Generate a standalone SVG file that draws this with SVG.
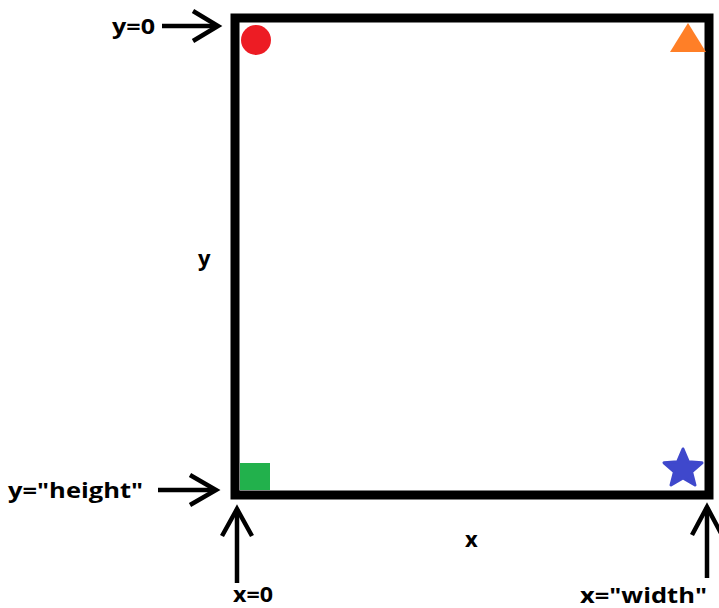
<svg xmlns="http://www.w3.org/2000/svg" width="719" height="608" viewBox="0 0 719 608">
  <style>
    .lbl { font-family: "Open Sans", "Liberation Sans", sans-serif; font-weight: bold; font-size: 22px; fill: #000; }
    .arr { fill: none; stroke: #000; stroke-width: 4.5; stroke-linejoin: miter; }
  </style>
  <rect width="719" height="608" fill="#fff"/>
  <g id="frame">
    <rect x="235" y="18" width="474" height="477" fill="none" stroke="#000" stroke-width="9"/>
  </g>
  <g id="circle">
    <circle cx="256" cy="40" r="15" fill="#ED1C24"/>
  </g>
  <g id="triangle">
    <polygon points="688,23 670,52 706,52" fill="#FF7F27"/>
  </g>
  <g id="square">
    <rect x="240" y="463" width="30" height="27" fill="#22B14C"/>
  </g>
  <g id="star">
    <polygon points="683,449 688.3,461.7 702,462.8 691.6,471.8 695,485 683,478 671,485 674.4,471.8 664,462.8 677.7,461.7" fill="#3F48CC" stroke="#3F48CC" stroke-width="3" stroke-linejoin="round"/>
  </g>
  <g id="connectors">
    <line class="arr" x1="162" y1="26" x2="217" y2="26"/>
    <polyline class="arr" points="193,11 218,26 193,41"/>
    <line class="arr" x1="158" y1="490" x2="215" y2="490"/>
    <polyline class="arr" points="190,475 216,490 190,505"/>
    <line class="arr" x1="237" y1="583" x2="237" y2="509"/>
    <polyline class="arr" points="222,536 237,509 252,536"/>
    <line class="arr" x1="707" y1="578" x2="707" y2="507"/>
    <polyline class="arr" points="692,535 707,507 722,535"/>
  </g>
  <g id="labels">
    <text class="lbl" x="112" y="34" textLength="43" lengthAdjust="spacingAndGlyphs">y=0</text>
    <text class="lbl" x="198" y="266">y</text>
    <text class="lbl" x="8" y="498" textLength="135" lengthAdjust="spacingAndGlyphs">y="height"</text>
    <text class="lbl" x="465" y="547">x</text>
    <text class="lbl" x="233" y="602" textLength="40" lengthAdjust="spacingAndGlyphs">x=0</text>
    <text class="lbl" x="580" y="603" textLength="127" lengthAdjust="spacingAndGlyphs">x="width"</text>
  </g>
</svg>
